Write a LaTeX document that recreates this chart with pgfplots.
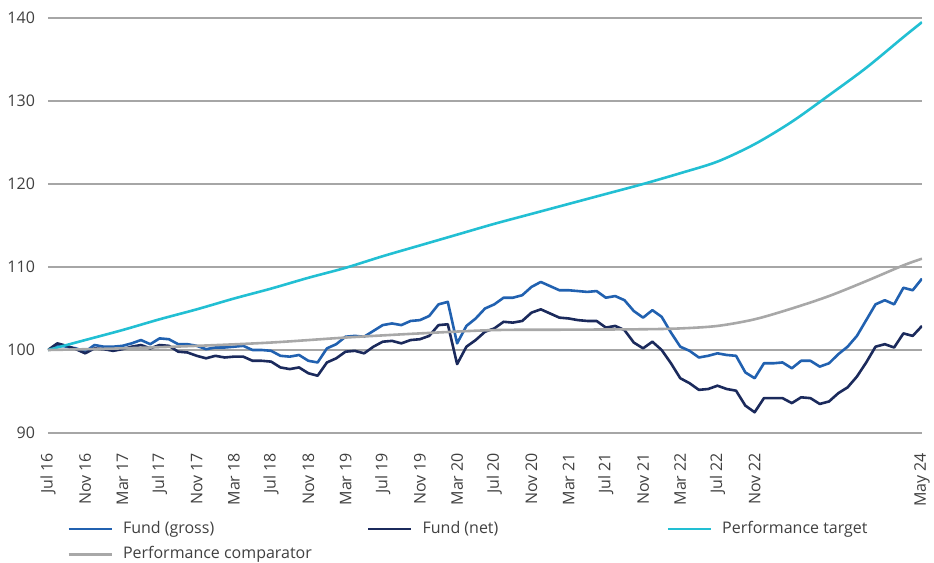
\documentclass[border=0pt]{standalone}
\usepackage{pgfplots}
\pgfplotsset{compat=1.18}
\usepackage{pgfplotstable}
\usepackage{fontspec}
\setmainfont{Open Sans}
\definecolor{gross}{HTML}{2161B0}
\definecolor{net}{HTML}{1B2A5C}
\definecolor{target}{HTML}{22BFD3}
\definecolor{comp}{HTML}{A8A8A8}
\definecolor{gridc}{HTML}{A6A6A6}
\definecolor{txt}{HTML}{404040}

\pgfplotstableread{
i gross net
0 100.0 100.0
1 100.6 100.8
2 100.4 100.5
3 100.2 100.1
4 99.8 99.6
5 100.6 100.2
6 100.4 100.1
7 100.4 99.9
8 100.5 100.1
9 100.8 100.4
10 101.2 100.6
11 100.7 100.2
12 101.4 100.6
13 101.3 100.5
14 100.7 99.8
15 100.7 99.7
16 100.5 99.3
17 100.1 99.0
18 100.3 99.3
19 100.3 99.1
20 100.4 99.2
21 100.5 99.2
22 100.0 98.7
23 100.0 98.7
24 99.9 98.6
25 99.3 97.9
26 99.2 97.7
27 99.4 97.9
28 98.7 97.2
29 98.5 96.9
30 100.2 98.5
31 100.7 99.0
32 101.6 99.8
33 101.7 99.9
34 101.6 99.6
35 102.3 100.4
36 103.0 101.0
37 103.2 101.1
38 103.0 100.8
39 103.5 101.2
40 103.6 101.3
41 104.1 101.7
42 105.5 103.0
43 105.8 103.1
44 100.8 98.3
45 102.9 100.4
46 103.8 101.2
47 105.0 102.2
48 105.5 102.6
49 106.3 103.4
50 106.3 103.3
51 106.6 103.5
52 107.6 104.5
53 108.2 104.9
54 107.7 104.4
55 107.2 103.9
56 107.2 103.8
57 107.1 103.6
58 107.0 103.5
59 107.1 103.5
60 106.3 102.7
61 106.5 102.9
62 106.0 102.4
63 104.7 100.9
64 103.9 100.2
65 104.8 101.0
66 104.0 100.0
67 102.1 98.4
68 100.4 96.6
69 99.9 96.0
70 99.1 95.2
71 99.3 95.3
72 99.6 95.7
73 99.4 95.3
74 99.3 95.1
75 97.3 93.3
76 96.6 92.5
77 98.4 94.2
78 98.4 94.2
79 98.5 94.2
80 97.8 93.6
81 98.7 94.3
82 98.7 94.2
83 98.0 93.5
84 98.4 93.8
85 99.5 94.8
86 100.4 95.5
87 101.7 96.8
88 103.6 98.5
89 105.5 100.4
90 106.0 100.7
91 105.5 100.3
92 107.5 102.0
93 107.2 101.7
94 108.6 102.9
}\funds

\pgfplotstableread{
i target
0 100.0
4 101.2
8 102.4
12 103.7
16 104.9
20 106.2
24 107.4
28 108.7
32 109.9
36 111.3
40 112.6
44 113.9
48 115.2
52 116.4
56 117.6
60 118.8
64 120.0
68 121.3
72 122.7
76 124.8
80 127.5
84 130.7
88 134.0
92 137.7
94 139.5
}\target

\pgfplotstableread{
i comp
0 100.0
8 100.2
16 100.5
24 100.9
32 101.5
40 102.0
48 102.4
56 102.45
64 102.5
68 102.6
72 102.9
76 103.7
80 105.0
84 106.5
88 108.3
92 110.2
94 111.0
}\comp

\begin{document}
\begin{tikzpicture}
\begin{axis}[
  name=ax,
  scale only axis,
  width=437pt, height=207.5pt,
  xmin=0, xmax=94, ymin=90, ymax=140,
  axis line style={draw=none},
  ymajorgrids, major grid style={gridc, line width=0.7pt},
  major tick length=0pt,
  ytick={90,100,...,140},
  xtick={0,4,...,76,94},
  xticklabels={Jul 16,Nov 16,Mar 17,Jul 17,Nov 17,Mar 18,Jul 18,Nov 18,Mar 19,Jul 19,Nov 19,Mar 20,Jul 20,Nov 20,Mar 21,Jul 21,Nov 21,Mar 22,Jul 22,Nov 22,May 24},
  /pgf/number format/assume math mode=true,
  yticklabel style={font=\fontsize{8}{9.6}\selectfont, text=txt, xshift=-3pt},
  xticklabel shift=6.5pt,
  xticklabel style={font=\fontsize{8}{9.6}\selectfont, text=txt, rotate=90, anchor=east},
  legend columns=3,
  legend cell align=left,
  legend image code/.code={\draw[#1] (0pt,0pt) -- (21.5pt,0pt);},
  legend style={draw=none, fill=none, inner sep=0pt,
    at={(0,0)}, anchor=north west, xshift=9.5pt, yshift=-42pt,
    font=\fontsize{8}{9.6}\selectfont, text=txt,
    row sep=1pt,
    /tikz/every odd column/.style={column sep=3pt}},
  every axis plot/.append style={line width=1.3pt, line join=round},
]
\addplot[gross] table[x=i, y=gross] {\funds};
\addlegendentry{\makebox[120pt][l]{Fund (gross)}}
\addplot[net] table[x=i, y=net] {\funds};
\addlegendentry{\makebox[120pt][l]{Fund (net)}}
\addplot[target, smooth] table[x=i, y=target] {\target};
\addlegendentry{Performance target}
\addplot[comp, smooth] table[x=i, y=comp] {\comp};
\addlegendentry{Performance comparator}
\end{axis}
\pgfresetboundingbox
\path ([xshift=-24pt,yshift=9pt]ax.north west) rectangle ([xshift=6pt,yshift=-64.5pt]ax.south east);
\end{tikzpicture}
\end{document}
